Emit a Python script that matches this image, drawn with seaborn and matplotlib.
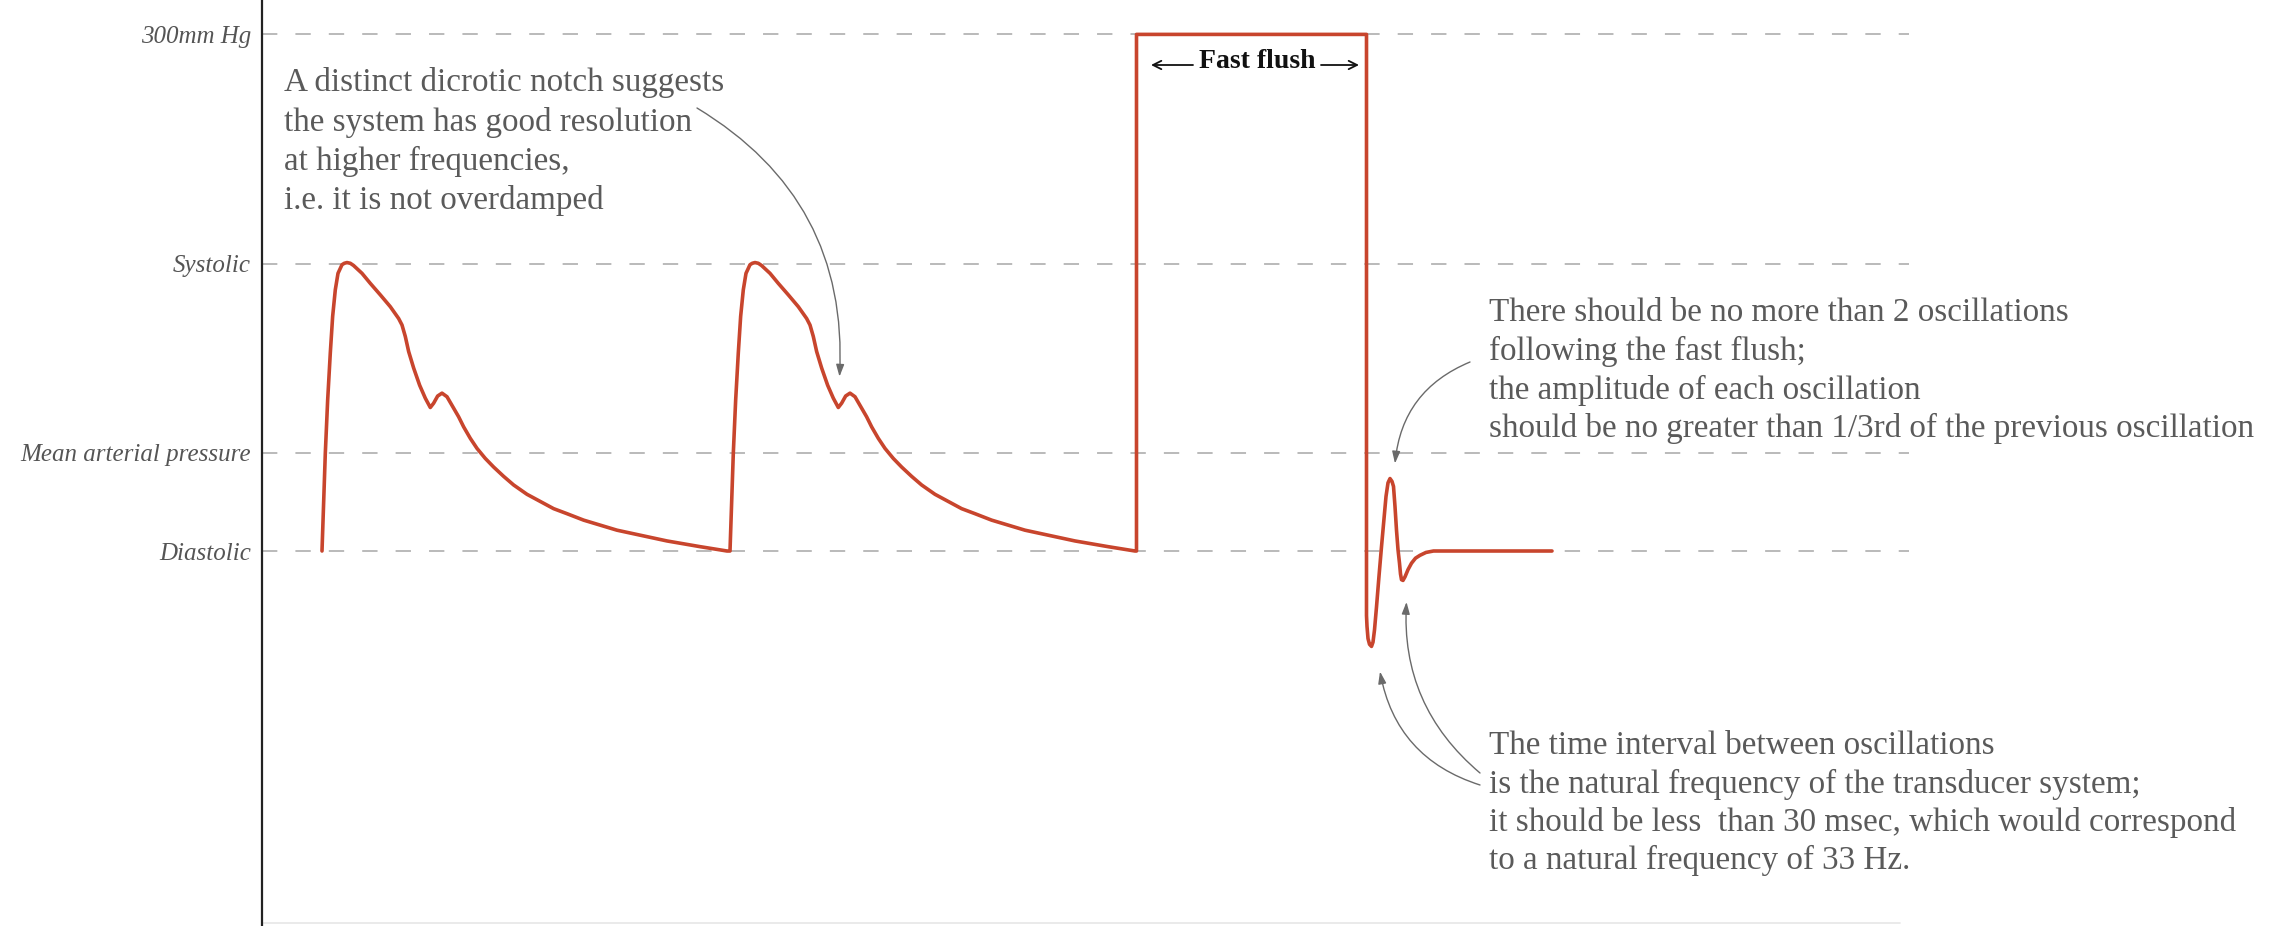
import numpy as np
import pandas as pd
import matplotlib
matplotlib.use("Agg")
import matplotlib.pyplot as plt
from matplotlib.transforms import Affine2D
import seaborn as sns

# ---------------- data (schematic arterial line trace) ----------------
pressure_levels = [152, 120, 93.7, 80]
pressure_labels = ["300mm Hg", "Systolic", "Mean arterial pressure", "Diastolic"]

beat_onsets_ms = [120, 936]
beat_t_ms = [0, 3.3, 6.6, 11.3, 16.6, 21.3, 26.6, 32, 40, 44.6, 50, 56.6, 63, 80,
             96.6, 116.6, 136.6, 153.3, 160, 166.6, 173.3, 183.3, 195.3, 206.6,
             216.6, 223.3, 231.3, 240, 250, 263.3, 273.3, 283.3, 296.6, 310,
             326.6, 343.3, 363.3, 383.3, 410, 436.6, 463.3, 490, 523.3, 556.6,
             590, 623.3, 656.6, 690, 723.3, 756.6, 783.3, 810]
beat_p = [80, 86.6, 93.6, 101.0, 107.6, 112.7, 116.4, 118.7, 119.9, 120.1, 120.2,
          120.1, 119.8, 118.7, 117.3, 115.7, 114.05, 112.4, 111.5, 109.9, 107.8,
          105.5, 103.1, 101.3, 100.0, 100.6, 101.6, 102.0, 101.5, 99.9, 98.7,
          97.3, 95.7, 94.3, 92.9, 91.7, 90.4, 89.2, 87.9, 86.9, 85.9, 85.2,
          84.3, 83.6, 82.9, 82.4, 81.9, 81.4, 81.0, 80.6, 80.3, 80.0]

flush_t_ms = [1749, 1749, 2209, 2209, 2210, 2212, 2215, 2219, 2222, 2225, 2229,
              2234, 2239, 2244, 2248, 2252, 2256, 2260, 2263, 2266, 2269, 2272,
              2275, 2277, 2279, 2282, 2286, 2292, 2299, 2307, 2316, 2328, 2343,
              2580]
flush_p = [80, 152, 152, 71, 69.5, 67.8, 67.0, 66.7, 67.3, 69.0, 72.2, 76.5, 80.6,
           84.5, 87.6, 89.5, 90.1, 89.7, 89.0, 86.2, 82.9, 80.2, 78.3, 76.8, 76.0,
           75.9, 76.4, 77.4, 78.3, 79.0, 79.4, 79.8, 80.0, 80.0]

ref_line_end_ms = 3294
baseline_end_ms = 3276

notch_text = ["A distinct dicrotic notch suggests",
              "the system has good resolution",
              "at higher frequencies,",
              "i.e. it is not overdamped"]
osc_text = ["There should be no more than 2 oscillations",
            "following the fast flush;",
            "the amplitude of each oscillation",
            "should be no greater than 1/3rd of the previous oscillation"]
freq_text = ["The time interval between oscillations",
             "is the natural frequency of the transducer system;",
             "it should be less  than 30 msec, which would correspond",
             "to a natural frequency of 33 Hz."]

# ---------------- build trace ----------------
t_all = [o + t for o in beat_onsets_ms for t in beat_t_ms] + flush_t_ms
p_all = [p for o in beat_onsets_ms for p in beat_p] + flush_p
df = pd.DataFrame({"t": t_all, "p": p_all})

sns.set_theme(style="white")
plt.rcParams["font.family"] = ["Liberation Serif", "DejaVu Serif"]

W, H = 2285, 926
fig = plt.figure(figsize=(W / 100, H / 100), dpi=100)
fig.patch.set_facecolor("white")
ax = fig.add_axes([262 / W, 0, 1 - 262 / W, 1])
ax.set_facecolor("white")
ax.set_xlim(0, (W - 262) * 2)
ax.set_ylim(80 - 375 / 7.175, 80 + 551 / 7.175)

pix = Affine2D().scale(1 / W, -1 / H).translate(0, 1) + fig.transFigure

GRAY = "#5a5a5a"
RED = "#c8452d"

# reference dashed lines
for lvl in pressure_levels:
    ax.plot([0, ref_line_end_ms], [lvl, lvl], color="#b4b4b4", lw=1.3,
            dashes=(8.5, 10), zorder=1)
# faint baseline
ax.plot([0, baseline_end_ms], [28.1, 28.1], color="#e6e6e6", lw=1.2, zorder=1)

sns.lineplot(data=df, x="t", y="p", sort=False, estimator=None, errorbar=None,
             color=RED, lw=2.6, ax=ax, zorder=3,
             solid_joinstyle="round", solid_capstyle="round")

# axes styling
for s in ["top", "right", "bottom"]:
    ax.spines[s].set_visible(False)
ax.spines["left"].set_color("#222222")
ax.spines["left"].set_linewidth(1.6)
ax.set_xticks([])
ax.set_yticks(pressure_levels)
ax.set_yticklabels(pressure_labels, fontsize=18, style="italic", color="#555555")
ax.tick_params(axis="y", length=0, pad=8)
ax.set_xlabel("")
ax.set_ylabel("")

# ---------------- annotations ----------------
renderer = fig.canvas.get_renderer()


def fit_size(s, target_px, **kw):
    t = fig.text(0, 0, s, fontsize=20, **kw)
    w = t.get_window_extent(renderer).width
    t.remove()
    return 20 * target_px / w


def put_lines(lines, x, y0, dy, size, **kw):
    for i, ln in enumerate(lines):
        ax.text(x, y0 + dy * i, ln, transform=pix, fontsize=size, color=GRAY,
                va="center", ha="left", **kw)


s1 = fit_size(notch_text[0], 440)
put_lines(notch_text, 284, 83, 39, s1)
s2 = fit_size(osc_text[3], 767)
put_lines(osc_text, 1489, 313, 38.5, s2)
s3 = fit_size(freq_text[2], 748)
put_lines(freq_text, 1489, 746, 38, s3)

# fast flush label
ax.text(1257, 61, "Fast flush", transform=pix, fontsize=20, fontweight="bold",
        color="#111111", ha="center", va="center")
for x0, x1 in [(1193, 1151), (1321, 1359)]:
    ax.annotate("", xy=(x1, 65), xycoords=pix, xytext=(x0, 65), textcoords=pix,
                arrowprops=dict(arrowstyle="->,head_length=0.5,head_width=0.25",
                                color="#111111", lw=1.3, shrinkA=0, shrinkB=0))

arrow_kw = dict(arrowstyle="-|>,head_length=0.6,head_width=0.2", color="#6a6a6a",
                lw=1.0, shrinkA=0, shrinkB=0)
arrows = [((697, 108), (1155, 104.3), -0.3),
          ((1470, 362), (2266, 92.2), 0.3),
          ((1480, 785), (2236, 63.2), -0.3),
          ((1480, 773), (2289, 72.9), -0.25)]
for start, tip, rad in arrows:
    ax.annotate("", xy=tip, xycoords="data", xytext=start, textcoords=pix,
                arrowprops=dict(connectionstyle=f"arc3,rad={rad}", **arrow_kw))

fig.savefig("out.png", dpi=100, facecolor="white")
